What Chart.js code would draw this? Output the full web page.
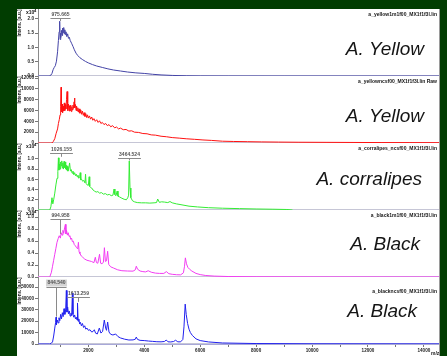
<!DOCTYPE html>
<html>
<head>
<meta charset="utf-8">
<script src="https://cdn.jsdelivr.net/npm/chart.js@4.4.0/dist/chart.umd.min.js"></script>
<style>
  html, body { margin: 0; padding: 0; background: #013d01; width: 447px; height: 356px; overflow: hidden; }
  #frame { position: absolute; left: 17px; top: 9px; width: 423px; height: 347px; background: #fff; }
  canvas { display: block; }
</style>
</head>
<body>
<div id="frame"><canvas id="spectra" width="423" height="347"></canvas></div>
<script>
// m/z and intensity of each spectrum
const mzYellowLin = [
  200, 600, 660, 700, 740, 780, 820, 860, 900, 930,
  955, 975, 990, 1005, 1020, 1040, 1060, 1080, 1100, 1120,
  1140, 1160, 1180, 1200, 1230, 1260, 1290, 1320, 1350, 1400,
  1450, 1500, 1560, 1620, 1700, 1800, 1900, 2000, 2150, 2300,
  2500, 2700, 2900, 3150, 3400, 3700, 4000, 4300, 4600, 5000,
  5500, 6000, 7000, 9000, 14540];
const intYellowLin = [
  0, 0, 300, 900, 2200, 3000, 3600, 5200, 8500, 12500,
  15500, 19200, 12800, 15000, 13500, 16000, 14200, 16800, 15200, 17000,
  14800, 16200, 14500, 15500, 13800, 14800, 13200, 13600, 12500, 11500,
  10400, 9200, 8000, 7200, 6400, 5700, 5100, 4600, 4000, 3500,
  3000, 2500, 2100, 1750, 1400, 1100, 900, 600, 380, 200,
  80, 30, 10, 0, 0];

const mzYellowRaw = [
  200, 650, 700, 750, 800, 850, 900, 930, 960, 990,
  1010, 1025, 1040, 1060, 1080, 1100, 1120, 1140, 1160, 1180,
  1200, 1220, 1240, 1255, 1270, 1290, 1310, 1330, 1350, 1370,
  1390, 1410, 1430, 1450, 1470, 1490, 1505, 1520, 1540, 1560,
  1580, 1600, 1625, 1650, 1675, 1700, 1730, 1760, 1790, 1820,
  1850, 1880, 1910, 1940, 1970, 2000, 2040, 2080, 2120, 2160,
  2200, 2250, 2300, 2350, 2400, 2450, 2500, 2560, 2620, 2680,
  2740, 2800, 2870, 2940, 3010, 3080, 3150, 3250, 3350, 3450,
  3550, 3650, 3800, 3950, 4100, 4250, 4400, 4600, 4800, 5000,
  5250, 5500, 5800, 6100, 6400, 6800, 7200, 7700, 8200, 8800,
  9500, 10500, 11500, 12500, 13500, 14540];
const intYellowRaw = [
  0, 0, 0, 300, 800, 1800, 2600, 3600, 4300, 5200,
  6800, 10300, 5800, 7200, 5600, 6800, 5900, 7400, 6000, 7100,
  6300, 8000, 9500, 7000, 6000, 7200, 5900, 6900, 6000, 7000,
  5800, 6700, 6100, 7000, 6400, 7600, 8300, 6500, 7100, 6000,
  6800, 5900, 6500, 5700, 6300, 5500, 6100, 5300, 5900, 5100,
  5600, 4900, 5400, 4700, 5200, 4600, 5000, 4400, 4800, 4200,
  4500, 4000, 4300, 3800, 4100, 3600, 3800, 3400, 3600, 3200,
  3400, 3000, 3200, 2800, 2950, 2600, 2750, 2450, 2500, 2200,
  2250, 2000, 1950, 1750, 1700, 1500, 1450, 1250, 1150, 1000,
  900, 780, 680, 560, 480, 330, 280, 240, 200, 170,
  140, 120, 100, 80, 70, 60];

const mzCorralipes = [
  200, 620, 660, 700, 730, 760, 800, 840, 880, 910,
  930, 950, 970, 990, 1010, 1030, 1050, 1070, 1090, 1110,
  1130, 1150, 1170, 1190, 1210, 1230, 1250, 1270, 1300, 1330,
  1360, 1390, 1420, 1450, 1480, 1510, 1540, 1570, 1600, 1630,
  1660, 1690, 1710, 1730, 1760, 1800, 1840, 1880, 1900, 1920,
  1960, 2000, 2030, 2050, 2080, 2120, 2170, 2220, 2280, 2340,
  2400, 2470, 2540, 2610, 2680, 2750, 2820, 2880, 2920, 2950,
  2990, 3030, 3060, 3120, 3200, 3280, 3360, 3410, 3440, 3464,
  3490, 3520, 3580, 3650, 3750, 3900, 4050, 4200, 4350, 4440,
  4480, 4540, 4620, 4720, 4840, 4920, 5000, 5150, 5350, 5600,
  5900, 6300, 6800, 7400, 8000, 8600, 9100, 9300];
const intCorralipes = [
  0, 0, 600, 2400, 1200, 2000, 3300, 4900, 6200, 7500,
  10200, 7800, 9000, 8000, 9400, 8600, 9600, 8200, 9200, 8000,
  9500, 8300, 9400, 8000, 8700, 7800, 8500, 7600, 8200, 9200,
  7600, 7900, 7200, 7600, 6900, 7300, 6700, 7000, 6500, 6800,
  6200, 6500, 7300, 5900, 6000, 5600, 5800, 5300, 7000, 5200,
  4900, 4800, 6500, 4600, 4400, 4300, 3900, 3700, 3500, 3600,
  3300, 3400, 3100, 3200, 2950, 3050, 2800, 2900, 4100, 3000,
  2800, 3700, 2700, 2550, 2300, 2100, 2000, 2400, 2900, 9600,
  4300, 2400, 1800, 1600, 1450, 1400, 1400, 1350, 1400, 1450,
  2150, 1500, 1600, 1550, 1450, 1650, 1400, 1200, 1000, 750,
  600, 450, 350, 270, 200, 150, 100, 0];

const mzBlackLin = [
  200, 620, 680, 720, 760, 800, 840, 880, 920, 960,
  1000, 1030, 1060, 1090, 1120, 1150, 1180, 1200, 1220, 1250,
  1280, 1310, 1340, 1370, 1400, 1430, 1460, 1500, 1540, 1580,
  1620, 1645, 1670, 1700, 1750, 1800, 1870, 1950, 2030, 2110,
  2200, 2250, 2290, 2340, 2400, 2440, 2490, 2540, 2575, 2610,
  2650, 2690, 2730, 2800, 2900, 3050, 3200, 3400, 3600, 3680,
  3715, 3760, 3850, 3950, 4050, 4140, 4250, 4400, 4550, 4700,
  4790, 4880, 5000, 5150, 5300, 5400, 5440, 5470, 5510, 5560,
  5620, 5700, 5850, 6000, 6200, 6500, 7000, 8000, 10000, 14540];
const intBlackLin = [
  0, 0, 800, 1800, 2800, 3800, 4800, 5800, 6400, 6900,
  6500, 7400, 7000, 7800, 7300, 8200, 8800, 7200, 7800, 7000,
  7400, 6800, 6900, 6300, 6500, 5900, 6000, 5400, 5200, 4900,
  4700, 5800, 4200, 3900, 3500, 3300, 3000, 2800, 2700, 2600,
  2400, 3300, 2400, 2300, 3800, 2300, 2200, 2500, 4900, 2600,
  2700, 4300, 2100, 1700, 1500, 1200, 1050, 1000, 980, 1200,
  1800, 1300, 1000, 900, 850, 1050, 800, 650, 600, 600,
  900, 550, 450, 380, 360, 700, 1800, 3200, 2200, 1600,
  1300, 1000, 600, 400, 250, 150, 80, 40, 20, 10];

const mzBlackRaw = [
  200, 620, 680, 720, 760, 800, 830, 845, 860, 890,
  920, 950, 980, 1010, 1040, 1070, 1100, 1130, 1160, 1190,
  1214, 1235, 1260, 1290, 1320, 1350, 1380, 1405, 1429, 1450,
  1480, 1510, 1540, 1570, 1595, 1613, 1635, 1660, 1690, 1720,
  1750, 1790, 1830, 1870, 1910, 1950, 2000, 2060, 2120, 2170,
  2214, 2260, 2320, 2393, 2450, 2510, 2571, 2620, 2650, 2690,
  2740, 2800, 2880, 2976, 3060, 3150, 3300, 3450, 3600, 3680,
  3714, 3760, 3850, 4000, 4150, 4300, 4450, 4600, 4720, 4786,
  4850, 4950, 5050, 5120, 5200, 5300, 5380, 5420, 5464, 5500,
  5550, 5600, 5650, 5720, 5850, 6000, 6300, 6800, 8000, 10000,
  14540];
const intBlackRaw = [
  0, 0, 800, 1800, 7000, 14000, 19000, 23500, 17000, 21000,
  18500, 23000, 20500, 26000, 22000, 27500, 24000, 31000, 26000, 30000,
  47000, 28000, 32500, 26500, 29000, 24500, 27000, 25000, 44500, 26000,
  23500, 25500, 22000, 23500, 21000, 36000, 20000, 22000, 17500, 19000,
  16000, 18000, 14500, 16000, 13000, 14000, 12000, 12500, 10500, 11000,
  12500, 9500, 8800, 14000, 9600, 11000, 21000, 14000, 12000, 19300,
  10500, 8500, 7900, 8800, 6500, 5300, 4200, 3500, 3600, 4200,
  6100, 4000, 3200, 3000, 2600, 2300, 2000, 1900, 2200, 3500,
  1900, 1800, 2200, 3300, 1900, 1900, 4000, 15000, 35000, 26000,
  18000, 13000, 10000, 7500, 4500, 3000, 1800, 900, 400, 200,
  100];

// tick values of every axis
const xTickValues = [1000, 2000, 3000, 4000, 5000, 6000, 7000, 8000, 9000, 10000, 11000, 12000, 13000, 14000];
const xTickLabels = [2000, 4000, 6000, 8000, 10000, 12000, 14000];
const ticksYellowLin = [0, 5000, 10000, 15000, 20000];
const ticksYellowRaw = [0, 2000, 4000, 6000, 8000, 10000, 12000];
const ticksCorralipes = [0, 2000, 4000, 6000, 8000, 10000];
const ticksBlackLin = [0, 2000, 4000, 6000, 8000, 10000];
const ticksBlackRaw = [0, 10000, 20000, 30000, 40000, 50000];

const species = ['A. Yellow', 'A. Yellow', 'A. corralipes', 'A. Black', 'A. Black'];
const fileNames = [
  'a_yellow1m1f00_MX1f1f3l.lin',
  'a_yellowncsf00_MX1f1f3l.lin Raw',
  'a_corralipes_ncsf00_MX1f1f3l.lin',
  'a_black1m1f00_MX1f1f3l.lin',
  'a_blackncsf00_MX1f1f3l.lin'
];

const peakMarks = [
  { axis: 'y1', mz: 975.665, text: '975.665', labelAt: 21400, tipAt: 19300 },
  { axis: 'y3', mz: 1026.155, text: '1026.155', labelAt: 11800, tipAt: 10400 },
  { axis: 'y3', mz: 3464.524, text: '3464.524', labelAt: 10800, tipAt: 9700 },
  { axis: 'y4', mz: 994.958, text: '994.958', labelAt: 10200, tipAt: 7200 },
  { axis: 'y5', mz: 844.540, text: '844.540', labelAt: 53500, tipAt: 24000, boxed: true },
  { axis: 'y5', mz: 1613.259, text: '1613.259', labelAt: 43900, tipAt: 37000 }
];

const panelIds = ['y1', 'y2', 'y3', 'y4', 'y5'];
const withExponent = [true, false, true, true, false];
const speciesInset = [15, 15, 17, 19, 22];
const speciesDrop = [41, 41, 37, 35, 35];
const fileDrop = [6, 6, 6, 6, 15];

const tiny = { family: 'Arial', size: 4.6, weight: 'bold' };

function points(mz, vals) {
  return mz.map((m, i) => ({ x: m, y: vals[i] }));
}

function yAxis(max, tickValues, fmt) {
  return {
    type: 'linear',
    position: 'left',
    stack: 'spectra',
    stackWeight: 1,
    min: 0,
    max: max,
    grid: { drawOnChartArea: false, tickLength: 3, color: '#777' },
    border: { color: '#8a8a8a' },
    afterBuildTicks: s => { s.ticks = tickValues.map(v => ({ value: v })); },
    ticks: {
      autoSkip: false,
      padding: 1,
      color: '#222',
      font: tiny,
      callback: fmt
    },
    afterFit: s => { s.width = 21; s.paddingTop = 0; s.paddingBottom = 0; }
  };
}

const exp4 = v => (v / 10000).toFixed(1);
const plain = v => String(v);

const specText = {
  id: 'specText',
  beforeDatasetsDraw(chart) {
    const { ctx, chartArea: area, scales } = chart;
    ctx.save();
    ctx.lineWidth = 1;
    ctx.strokeStyle = '#c6c6d6';
    panelIds.forEach(id => {
      const y = Math.round(scales[id].bottom) - 0.5;
      ctx.beginPath();
      ctx.moveTo(area.left, y);
      ctx.lineTo(area.right, y);
      ctx.stroke();
    });
    ctx.strokeStyle = '#9a9a9a';
    ctx.beginPath();
    ctx.moveTo(area.right + 0.5, area.top);
    ctx.lineTo(area.right + 0.5, chart.height);
    ctx.stroke();
    ctx.restore();
  },
  afterDatasetsDraw(chart) {
    const { ctx, chartArea: area, scales } = chart;
    ctx.save();
    panelIds.forEach((id, i) => {
      const s = scales[id];
      ctx.fillStyle = '#151515';
      ctx.textAlign = 'right';
      ctx.textBaseline = 'middle';
      ctx.font = 'italic 19px Arial';
      ctx.fillText(species[i], area.right - speciesInset[i], s.top + speciesDrop[i]);
      ctx.font = 'bold 5px Arial';
      ctx.fillText(fileNames[i], area.right - 2, s.top + fileDrop[i]);

      ctx.save();
      ctx.translate(3, s.top + 14);
      ctx.rotate(-Math.PI / 2);
      ctx.textAlign = 'center';
      ctx.font = 'bold 4.6px Arial';
      ctx.fillText('Intens. [a.u.]', 0, 0);
      ctx.restore();

      if (withExponent[i]) {
        ctx.textAlign = 'left';
        ctx.font = 'bold 5px Arial';
        ctx.fillText('x10', 9, s.top + 4);
        ctx.font = 'bold 4px Arial';
        ctx.fillText('4', 17, s.top + 2);
      }
    });

    const xs = scales.x;
    peakMarks.forEach(p => {
      const s = scales[p.axis];
      const x = Math.round(xs.getPixelForValue(p.mz)) + 0.5;
      const yt = s.getPixelForValue(p.labelAt);
      const ytip = s.getPixelForValue(p.tipAt);
      ctx.font = 'bold 5px Arial';
      const w = ctx.measureText(p.text).width;
      if (p.boxed) {
        ctx.fillStyle = '#d4d4d4';
        ctx.fillRect(x - w / 2 - 1.5, yt - 3.5, w + 3, 7);
      }
      ctx.fillStyle = '#555';
      ctx.textAlign = 'center';
      ctx.textBaseline = 'middle';
      ctx.fillText(p.text, x, yt);
      ctx.strokeStyle = '#8a8a8a';
      ctx.lineWidth = 1;
      const yl = Math.round(yt + 3.5) + 0.5;
      ctx.beginPath();
      ctx.moveTo(x - w / 2 - 1, yl);
      ctx.lineTo(x + w / 2 + 1, yl);
      ctx.moveTo(x, yl);
      ctx.lineTo(x, ytip);
      ctx.stroke();
    });

    ctx.fillStyle = '#222';
    ctx.font = 'bold 5px Arial';
    ctx.textAlign = 'left';
    ctx.textBaseline = 'bottom';
    ctx.fillText('m/z', area.right - 8, chart.height);
    ctx.restore();
  }
};

new Chart(document.getElementById('spectra'), {
  type: 'line',
  data: {
    datasets: [
      { data: points(mzBlackRaw, intBlackRaw), yAxisID: 'y5', borderColor: '#2020ee' },
      { data: points(mzBlackLin, intBlackLin), yAxisID: 'y4', borderColor: '#f23cf2' },
      { data: points(mzCorralipes, intCorralipes), yAxisID: 'y3', borderColor: '#33ec33' },
      { data: points(mzYellowRaw, intYellowRaw), yAxisID: 'y2', borderColor: '#ff1010' },
      { data: points(mzYellowLin, intYellowLin), yAxisID: 'y1', borderColor: '#4343a6' }
    ]
  },
  options: {
    responsive: false,
    animation: false,
    devicePixelRatio: 1,
    layout: { padding: { top: 0, left: 0, right: 1, bottom: 0 } },
    datasets: { line: { borderWidth: 1, pointRadius: 0, tension: 0, fill: false } },
    plugins: { legend: { display: false }, tooltip: { enabled: false } },
    scales: {
      x: {
        type: 'linear',
        min: 200,
        max: 14540,
        grid: { drawOnChartArea: false, tickLength: 3, color: '#777' },
        border: { color: '#a8a8d8' },
        afterBuildTicks: s => { s.ticks = xTickValues.map(v => ({ value: v })); },
        ticks: {
          autoSkip: false,
          maxRotation: 0,
          padding: 1,
          color: '#222',
          font: tiny,
          callback: v => xTickLabels.includes(v) ? String(v) : ''
        },
        afterFit: s => { s.height = 12; s.paddingLeft = 0; s.paddingRight = 0; }
      },
      y5: yAxis(58800, ticksBlackRaw, plain),
      y4: yAxis(11200, ticksBlackLin, exp4),
      y3: yAxis(13100, ticksCorralipes, exp4),
      y2: yAxis(12370, ticksYellowRaw, plain),
      y1: yAxis(23500, ticksYellowLin, exp4)
    }
  },
  plugins: [specText]
});
</script>
</body>
</html>
